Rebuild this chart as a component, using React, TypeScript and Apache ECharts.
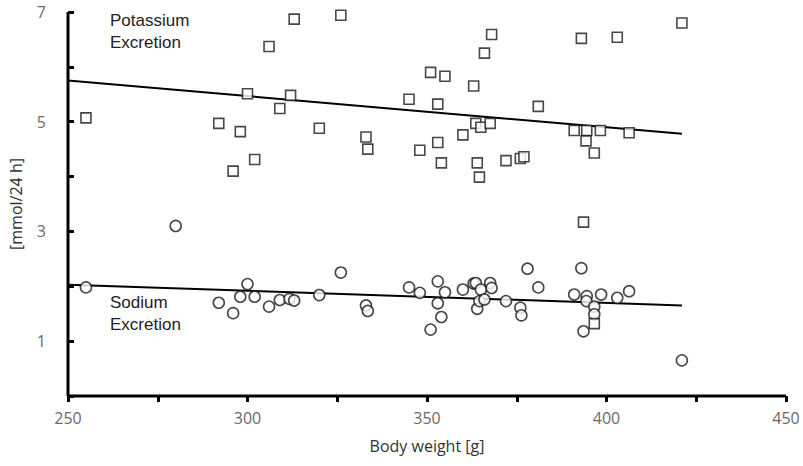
import React, { useEffect, useRef } from "react";
import * as echarts from "echarts";

const potassiumWeight = [255, 292, 298, 296, 300, 302, 306, 309, 312, 313, 320, 326, 333, 333.5, 345, 348, 351, 353, 353, 355, 354, 360, 363, 363.6, 364, 365, 364.6, 366, 367.6, 368, 372, 376, 377, 381, 391, 393, 394.5, 394.3, 393.6, 396.6, 398.3, 403, 406.3, 421];
const potassiumValue = [5.07, 4.97, 4.82, 4.1, 5.51, 4.31, 6.37, 5.24, 5.48, 6.87, 4.88, 6.94, 4.72, 4.5, 5.41, 4.48, 5.9, 5.32, 4.62, 5.83, 4.25, 4.76, 5.65, 4.97, 4.25, 4.9, 3.99, 6.25, 4.97, 6.59, 4.29, 4.33, 4.36, 5.28, 4.84, 6.52, 4.84, 4.65, 3.17, 4.43, 4.84, 6.54, 4.8, 6.8];

const sodiumWeight = [255, 280, 292, 296, 298, 300, 302, 306, 309, 311.7, 313, 320, 326, 333, 333.5, 345, 348, 351, 353, 353, 354, 355, 360, 363, 363.6, 364, 364.6, 365, 366, 367.6, 368, 372, 376, 376.3, 378, 381, 391, 393, 393.6, 394.5, 394.4, 396.6, 396.6, 398.5, 403, 406.3, 421];
const sodiumValue = [1.98, 3.1, 1.7, 1.51, 1.81, 2.04, 1.81, 1.63, 1.75, 1.77, 1.74, 1.84, 2.25, 1.65, 1.55, 1.98, 1.88, 1.21, 2.09, 1.69, 1.44, 1.89, 1.94, 2.05, 2.06, 1.59, 1.73, 1.94, 1.76, 2.06, 1.97, 1.73, 1.61, 1.47, 2.32, 1.98, 1.85, 2.33, 1.18, 1.82, 1.73, 1.63, 1.49, 1.85, 1.79, 1.91, 0.65];
// one sodium value drawn with a square marker in the original
const sodiumSquareWeight = [396.6];
const sodiumSquareValue = [1.32];

const potassiumTrend = [[250, 5.75], [421, 4.78]];
const sodiumTrend = [[250, 2.03], [421, 1.65]];

const xTickLabels = [250, 300, 350, 400, 450];
const yTickLabels = [1, 3, 5, 7];
const xRange = [250, 450];
const yRange = [0, 7];

export default function App() {
  const ref = useRef<HTMLDivElement>(null);
  useEffect(() => {
    if (!ref.current) return;
    const chart = echarts.init(ref.current, null, { renderer: "svg" });
    const markerStyle = { color: "#ffffff", borderColor: "#1a1a1a", borderWidth: 1.6 };
    const tickStyle = { color: "#000000", width: 3 };
    chart.setOption({
      animation: false,
      grid: { left: 68, right: 17, top: 12, bottom: 70 },
      xAxis: {
        type: "value",
        min: xRange[0],
        max: xRange[1],
        interval: 25,
        name: "Body weight [g]",
        nameLocation: "middle",
        nameGap: 42,
        nameTextStyle: { fontFamily: "Open Sans", fontSize: 16, color: "#333" },
        axisLine: { show: false },
        axisTick: { show: true, inside: false, length: 6, lineStyle: tickStyle },
        axisLabel: {
          margin: 14,
          fontFamily: "Open Sans",
          fontSize: 16,
          color: "#6b6b6b",
          formatter: (v: number) => (xTickLabels.includes(v) ? String(v) : ""),
        },
        splitLine: { show: false },
      },
      yAxis: {
        type: "value",
        min: yRange[0],
        max: yRange[1],
        interval: 1,
        name: "[mmol/24 h]",
        nameLocation: "middle",
        nameGap: 44,
        nameRotate: 90,
        nameTextStyle: { fontFamily: "Open Sans", fontSize: 16, color: "#333" },
        axisLine: { show: false },
        axisTick: { show: true, inside: true, length: 6, lineStyle: tickStyle },
        axisLabel: {
          margin: 22,
          fontFamily: "Open Sans",
          fontSize: 16,
          color: "#6b6b6b",
          formatter: (v: number) => (yTickLabels.includes(v) ? String(v) : ""),
        },
        splitLine: { show: false },
      },
      series: [
        {
          type: "line",
          name: "x axis line",
          data: [[xRange[0], yRange[0]], [xRange[1], yRange[0]]],
          symbol: "none",
          clip: false,
          silent: true,
          lineStyle: { color: "#000", width: 3 },
          z: 5,
        },
        {
          type: "line",
          name: "y axis line",
          data: [[xRange[0], yRange[0]], [xRange[0], yRange[1]]],
          symbol: "none",
          clip: false,
          silent: true,
          lineStyle: { color: "#000", width: 3 },
          z: 5,
        },
        {
          type: "line",
          data: potassiumTrend,
          symbol: "none",
          lineStyle: { color: "#000", width: 2 },
          z: 1,
        },
        {
          type: "line",
          data: sodiumTrend,
          symbol: "none",
          lineStyle: { color: "#000", width: 2 },
          z: 1,
        },
        {
          type: "scatter",
          name: "Potassium",
          symbol: "rect",
          symbolSize: 10,
          itemStyle: markerStyle,
          data: potassiumWeight.map((w, i) => [w, potassiumValue[i]]),
          z: 3,
        },
        {
          type: "scatter",
          name: "Sodium",
          symbol: "circle",
          symbolSize: 11,
          itemStyle: markerStyle,
          data: sodiumWeight.map((w, i) => [w, sodiumValue[i]]),
          z: 3,
        },
        {
          type: "scatter",
          name: "Sodium (square)",
          symbol: "rect",
          symbolSize: 10,
          itemStyle: markerStyle,
          data: sodiumSquareWeight.map((w, i) => [w, sodiumSquareValue[i]]),
          z: 3,
        },
      ],
      graphic: [
        {
          type: "text",
          left: 110,
          top: 9,
          style: {
            text: "Potassium\nExcretion",
            fontFamily: "Liberation Sans",
            fontSize: 17,
            lineHeight: 22,
            fill: "#222",
          },
        },
        {
          type: "text",
          left: 110,
          top: 291,
          style: {
            text: "Sodium\nExcretion",
            fontFamily: "Liberation Sans",
            fontSize: 17,
            lineHeight: 22,
            fill: "#222",
          },
        },
      ],
    });
    return () => chart.dispose();
  }, []);
  return <div ref={ref} style={{ width: 803, height: 466, position: "absolute", left: 0, top: 0 }} />;
}
